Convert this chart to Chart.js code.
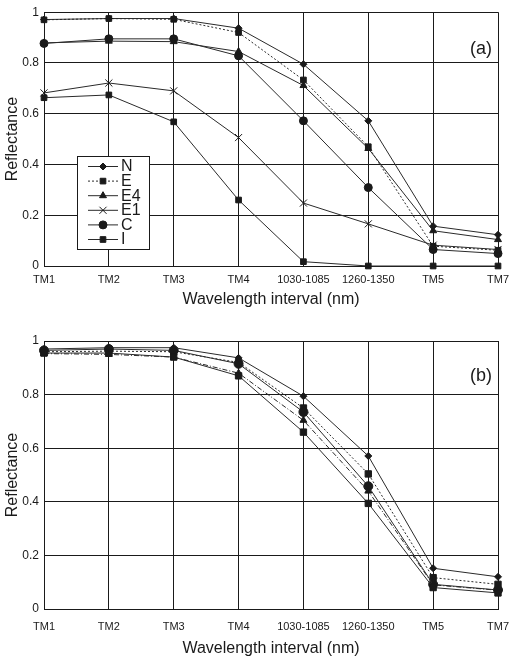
<!DOCTYPE html>
<html>
<head>
<meta charset="utf-8">
<script src="https://cdn.jsdelivr.net/npm/chart.js@4.4.1/dist/chart.umd.min.js"></script>
<style>
  html, body { margin: 0; padding: 0; background: #fff; }
  body { width: 510px; height: 661px; position: relative; overflow: hidden; }
  .box { position: absolute; left: 0; width: 510px; }
  #boxA { top: 0; height: 320px; }
  #boxB { top: 320px; height: 341px; }
</style>
</head>
<body>
<div class="box" id="boxA"><canvas id="chartA"></canvas></div>
<div class="box" id="boxB"><canvas id="chartB"></canvas></div>
<script>
// wavelength intervals (x axis)
const categories = ['TM1', 'TM2', 'TM3', 'TM4', '1030-1085', '1260-1350', 'TM5', 'TM7'];

// panel (a)
const aN  = [0.971, 0.975, 0.975, 0.937, 0.795, 0.572, 0.157, 0.123];
const aE  = [0.970, 0.975, 0.972, 0.920, 0.733, 0.470, 0.078, 0.062];
const aE4 = [0.879, 0.886, 0.884, 0.845, 0.711, 0.463, 0.139, 0.104];
const aE1 = [0.682, 0.721, 0.690, 0.506, 0.248, 0.166, 0.082, 0.065];
const aC  = [0.877, 0.895, 0.895, 0.828, 0.572, 0.309, 0.065, 0.049];
const aI  = [0.663, 0.674, 0.568, 0.260, 0.017, 0.000, 0.000, 0.000];

// panel (b)
const bN  = [0.970, 0.975, 0.975, 0.937, 0.794, 0.571, 0.152, 0.120];
const bSD = [0.955, 0.955, 0.940, 0.870, 0.660, 0.394, 0.080, 0.060];
const bDB = [0.953, 0.950, 0.940, 0.880, 0.704, 0.440, 0.090, 0.070];
const bDR = [0.965, 0.970, 0.965, 0.915, 0.735, 0.458, 0.092, 0.071];
const bDE = [0.960, 0.962, 0.960, 0.920, 0.750, 0.504, 0.117, 0.092];

const FONT = "'Liberation Sans', Arial, Helvetica, sans-serif";
const INK = '#1a1a1a';
const LINE = '#2a2a2a';

function series(label, data, style, radius, dash) {
    return {
        label: label,
        data: data,
        borderColor: LINE,
        borderWidth: 1,
        borderDash: dash || [],
        backgroundColor: INK,
        pointStyle: style,
        pointRadius: radius,
        pointBorderColor: INK,
        pointBackgroundColor: INK,
        pointBorderWidth: 1,
        tension: 0,
        clip: false
    };
}

// legend box + panel tag drawn inside the plot
const innerLegend = {
    id: 'innerLegend',
    afterDatasetsDraw(chart, args, opts) {
        const ctx = chart.ctx;
        const area = chart.chartArea;
        ctx.save();
        ctx.fillStyle = '#fff';
        ctx.strokeStyle = INK;
        ctx.lineWidth = 1;
        ctx.fillRect(opts.x, opts.y, opts.w, opts.h);
        ctx.strokeRect(opts.x + 0.5, opts.y + 0.5, opts.w, opts.h);
        ctx.font = opts.fontSize + 'px ' + FONT;
        ctx.textBaseline = 'middle';
        chart.data.datasets.forEach((ds, i) => {
            const yy = opts.y + opts.first + i * opts.step;
            const x0 = opts.x + 11, x1 = opts.x + 41;
            ctx.strokeStyle = LINE;
            ctx.setLineDash(ds.borderDash);
            ctx.beginPath();
            ctx.moveTo(x0, yy + 0.5);
            ctx.lineTo(x1, yy + 0.5);
            ctx.stroke();
            ctx.setLineDash([]);
            ctx.fillStyle = INK;
            ctx.strokeStyle = INK;
            Chart.helpers.drawPoint(ctx, {
                pointStyle: ds.pointStyle,
                radius: ds.pointRadius,
                rotation: 0,
                borderWidth: 1
            }, (x0 + x1) / 2, yy + 0.5);
            ctx.fillStyle = INK;
            ctx.fillText(ds.label, x1 + 3, yy + 1);
        });
        ctx.font = '18px ' + FONT;
        ctx.textAlign = 'right';
        ctx.fillText(opts.tag, area.right - 6, area.top + opts.tagY);
        ctx.restore();
    }
};

function makeChart(canvasId, datasets, lay) {
    return new Chart(document.getElementById(canvasId), {
        type: 'line',
        data: { labels: categories, datasets: datasets },
        plugins: [innerLegend],
        options: {
            responsive: true,
            maintainAspectRatio: false,
            animation: false,
            events: [],
            layout: { padding: { top: lay.top, right: 12, left: 0, bottom: 0 } },
            plugins: {
                legend: { display: false },
                tooltip: { enabled: false },
                innerLegend: lay.legend
            },
            scales: {
                x: {
                    offset: false,
                    afterFit: (s) => {
                        s.height = lay.xHeight;
                        s.paddingLeft = 0;
                        s.paddingRight = 0;
                    },
                    grid: { color: INK, lineWidth: 1, drawTicks: false },
                    border: { color: INK, width: 1 },
                    ticks: {
                        color: INK, padding: lay.tickPad, maxRotation: 0, autoSkip: false,
                        font: { family: FONT, size: 11 }
                    },
                    title: {
                        display: true, text: 'Wavelength interval (nm)', color: INK,
                        font: { family: FONT, size: 16 }, padding: { top: 0, bottom: lay.titlePad }
                    }
                },
                y: {
                    min: 0, max: 1,
                    afterFit: (s) => { s.width = 44; },
                    grid: { color: INK, lineWidth: 1, drawTicks: false },
                    border: { color: INK, width: 1 },
                    ticks: {
                        stepSize: 0.2, color: INK, padding: 5,
                        font: { family: FONT, size: 12 },
                        callback: (v) => String(Math.round(v * 10) / 10)
                    },
                    title: {
                        display: true, text: 'Reflectance', color: INK,
                        font: { family: FONT, size: 16 }, padding: { top: 3, bottom: 0 }
                    }
                }
            }
        }
    });
}

makeChart('chartA', [
    series('N', aN, 'rectRot', 3.5),
    series('E', aE, 'rect', 4, [2, 2]),
    series('E4', aE4, 'triangle', 4),
    series('E1', aE1, 'crossRot', 5),
    series('C', aC, 'circle', 4),
    series('I', aI, 'rect', 4)
], {
    top: 9, xHeight: 54, titlePad: 11, tickPad: 7,
    legend: { x: 77, y: 156, w: 72, h: 93, first: 10, step: 14.6, fontSize: 16, tag: '(a)', tagY: 37 }
});

makeChart('chartB', [
    series('N', bN, 'rectRot', 3.5),
    series('SD', bSD, 'rect', 4.5),
    series('DB', bDB, 'triangle', 4, [5, 2, 1, 2]),
    series('DR', bDR, 'circle', 4.5),
    series('DE', bDE, 'rect', 4.5, [2, 2])
], {
    top: 21, xHeight: 52, titlePad: 3, tickPad: 11,
    legend: { x: 74, y: 499, w: 74, h: 88, first: 10, step: 17.5, fontSize: 16, tag: '(b)', tagY: 35 }
});
</script>
</body>
</html>
